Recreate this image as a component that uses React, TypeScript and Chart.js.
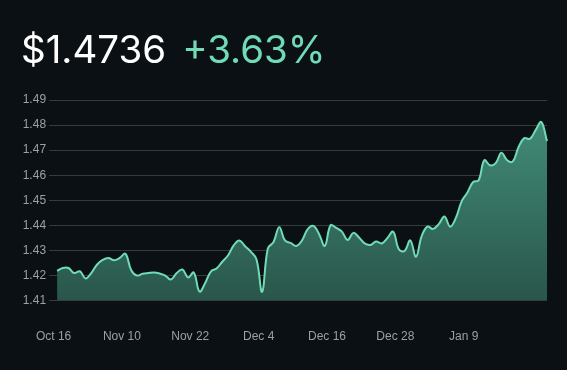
import React, { useEffect, useRef } from 'react';
import { Chart, registerables } from 'chart.js';

Chart.register(...registerables);

const priceText = '$1.4736';
const changeText = '+3.63%';

const tickLabels = ['Oct 16', 'Nov 10', 'Nov 22', 'Dec 4', 'Dec 16', 'Dec 28', 'Jan 9'];
const tickEvery = 12;

const prices = [
  1.4219, 1.4230, 1.4230, 1.4210, 1.4217, 1.4188, 1.4210, 1.4243, 1.4262, 1.4270,
  1.4261, 1.4270, 1.4287, 1.4222, 1.4200, 1.4207, 1.4210, 1.4212, 1.4208, 1.4200,
  1.4184, 1.4210, 1.4224, 1.4192, 1.4212, 1.4136, 1.4170, 1.4216, 1.4228, 1.4255,
  1.4280, 1.4320, 1.4340, 1.4317, 1.4295, 1.4265, 1.4135, 1.4308, 1.4334, 1.4393,
  1.4340, 1.4330, 1.4318, 1.4340, 1.4385, 1.4398, 1.4365, 1.4318, 1.4400, 1.4390,
  1.4375, 1.4342, 1.4370, 1.4352, 1.4328, 1.4322, 1.4336, 1.4328, 1.4350, 1.4375,
  1.4305, 1.4298, 1.4340, 1.4275, 1.4357, 1.4395, 1.4386, 1.4405, 1.4435, 1.4395,
  1.4430, 1.4495, 1.4530, 1.4572, 1.4580, 1.4660, 1.4640, 1.4648, 1.4690, 1.4660,
  1.4655, 1.4712, 1.4748, 1.4745, 1.4780, 1.4812, 1.4736,
];

const yMin = 1.41;
const yMax = 1.49;
const yStep = 0.01;

export default function App() {
  const ref = useRef<HTMLCanvasElement>(null);

  useEffect(() => {
    document.body.style.margin = '0';
    document.body.style.background = '#0a1014';
    const labels = prices.map((_, i) =>
      i % tickEvery === 0 && tickLabels[i / tickEvery] ? tickLabels[i / tickEvery] : ''
    );
    const chart = new Chart(ref.current as HTMLCanvasElement, {
      type: 'line',
      data: {
        labels,
        datasets: [
          {
            data: prices,
            borderColor: '#6fdcb6',
            borderWidth: 2,
            pointRadius: 0,
            tension: 0.4,
            fill: 'start',
            backgroundColor: (ctx: any) => {
              const c = ctx.chart;
              const area = c.chartArea;
              if (!area) return 'rgba(60,130,110,1)';
              const g = c.ctx.createLinearGradient(0, area.top, 0, area.bottom);
              g.addColorStop(0, '#44917b');
              g.addColorStop(1, '#29564a');
              return g;
            },
          },
        ],
      },
      options: {
        animation: false,
        responsive: false,
        maintainAspectRatio: false,
        layout: { padding: { left: 19.7, right: 20, top: 100, bottom: -3 } },
        plugins: { legend: { display: false }, tooltip: { enabled: false } },
        scales: {
          x: {
            grid: { display: false, drawTicks: false },
            border: { display: false },
            ticks: {
              autoSkip: false,
              maxRotation: 0,
              minRotation: 0,
              color: '#9aa0a5',
              font: { size: 12 },
              padding: 29,
              labelOffset: -3.5,
              callback: (_v: any, i: number) => labels[i] || null,
            },
          },
          y: {
            min: yMin,
            max: yMax,
            z: 1,
            grid: { color: 'rgba(255,255,255,0.18)', tickLength: 8 },
            border: { display: false },
            ticks: {
              stepSize: yStep,
              color: '#9aa0a5',
              font: { size: 12 },
              padding: 3,
              callback: (v: any) => Number(v).toFixed(2),
            },
          },
        },
      },
    });
    return () => chart.destroy();
  }, []);

  return (
    <div style={{ position: 'relative', width: 567, height: 370, background: '#0a1014', overflow: 'hidden' }}>
      <canvas ref={ref} width={567} height={370} style={{ position: 'absolute', left: 0, top: 0 }} />
      <div
        style={{
          position: 'absolute',
          left: 21,
          top: 23,
          fontFamily: 'Inter, sans-serif',
          fontSize: 38.5,
          fontWeight: 400,
          lineHeight: '52px',
          whiteSpace: 'nowrap',
        }}
      >
        <span style={{ color: '#ffffff' }}>{priceText}</span>
        <span style={{ color: '#6fdcb6', marginLeft: 16 }}>{changeText}</span>
      </div>
    </div>
  );
}
